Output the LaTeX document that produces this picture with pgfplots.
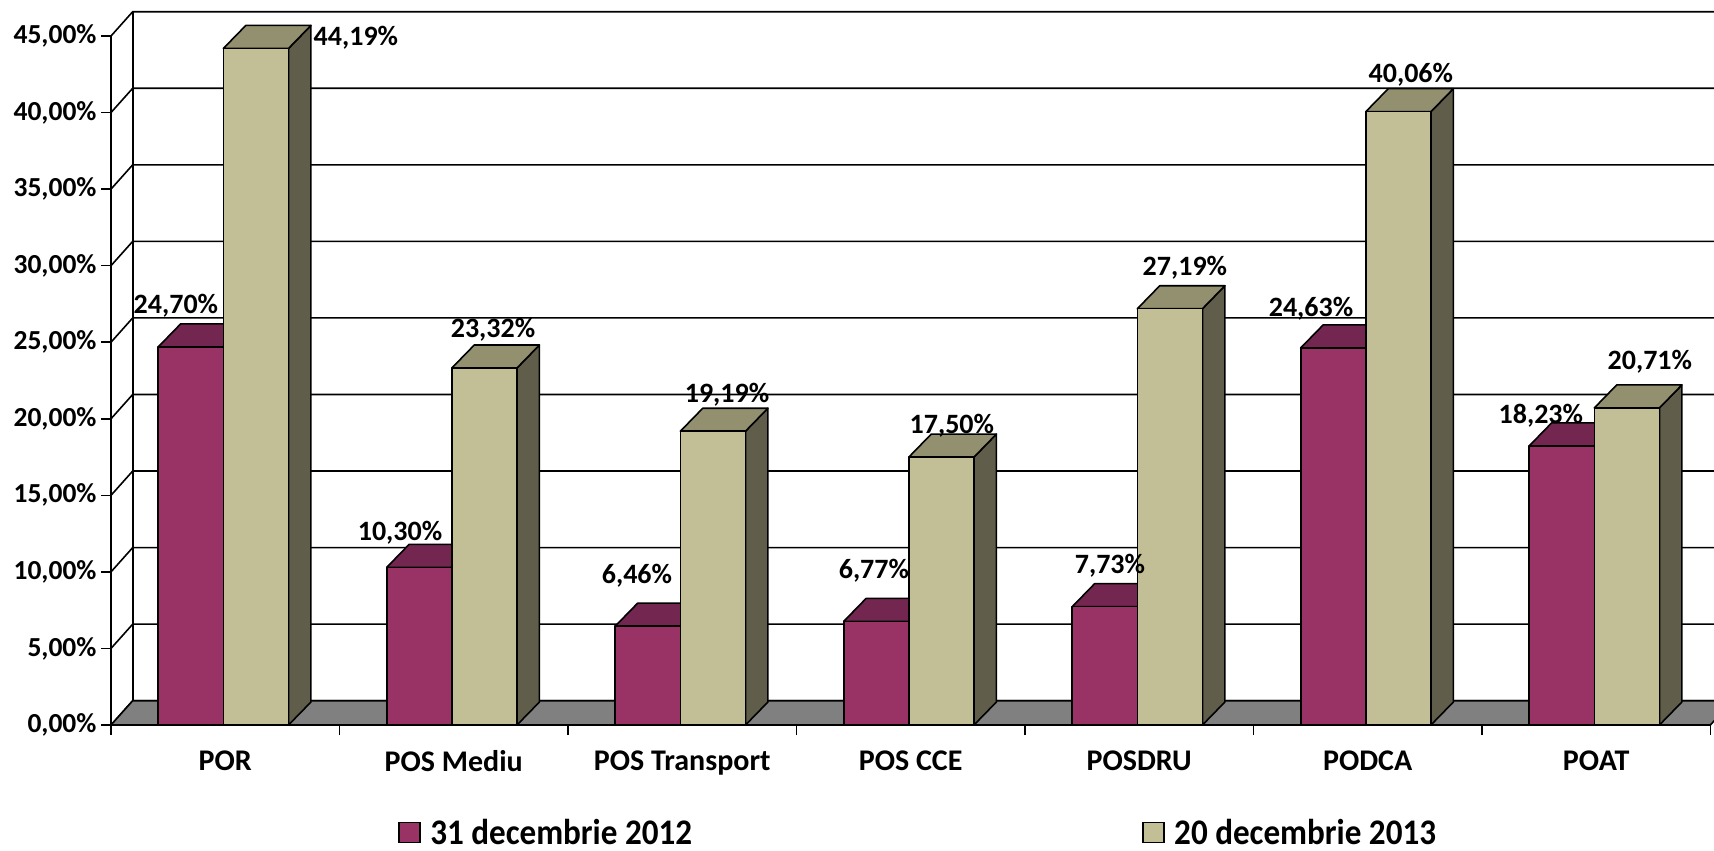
\documentclass[border=0pt]{standalone}
\usepackage{fontspec}
\setmainfont{Carlito}
\newfontfamily\legfont{Carlito}[FakeStretch=0.92]
\usepackage{pgfplots}
\usepackage{pgfplotstable}
\pgfplotsset{compat=1.18}
\definecolor{redF}{HTML}{993366}
\definecolor{redT}{HTML}{732650}
\definecolor{redS}{HTML}{5E1F42}
\definecolor{begF}{HTML}{C2BF96}
\definecolor{begT}{HTML}{939070}
\definecolor{begS}{HTML}{605E4A}
\definecolor{floorC}{HTML}{808080}

\pgfplotstableread{
i r b
0 24.70 44.19
1 10.30 23.32
2 6.46 19.19
3 6.77 17.50
4 7.73 27.19
5 24.63 40.06
6 18.23 20.71
}\data

\pgfplotstableread{
lx ly v
0.284 27.37 24.70
1.072 44.87 44.19
1.265 12.54 10.30
1.672 25.80 23.32
2.302 9.73 6.46
2.696 21.55 19.19
3.339 10.06 6.77
3.680 19.53 17.50
4.372 10.39 7.73
4.700 29.85 27.19
5.252 27.17 24.63
5.689 42.46 40.06
6.258 20.18 18.23
6.735 23.71 20.71
}\labels

\def\bdx{0.098}
\def\bdy{1.5}

\begin{document}
\begin{tikzpicture}
\begin{axis}[
  at={(111pt,-725pt)}, anchor=south west,
  scale only axis, width=1599.5pt, height=689pt,
  xmin=0, xmax=7, ymin=0, ymax=45,
  enlargelimits=false, clip=false,
  axis x line*=bottom, axis y line*=left,
  axis line style={line width=1.6pt, black, -},
  every tick/.style={black, line width=1.6pt},
  tick align=outside, major tick length=10pt,
  ytick={0,5,...,45},
  yticklabel={\pgfmathprintnumber[assume math mode=true,fixed,fixed zerofill,precision=2,use comma]{\tick}\%},
  xtick={0,...,7}, xticklabels={},
  extra x ticks={0.5,1.5,...,6.5},
  extra x tick labels={POR,POS Mediu,POS Transport,POS CCE,POSDRU,PODCA,POAT},
  extra x tick style={major tick length=0pt},
  yticklabel style={font=\fontsize{27.5}{32}\selectfont\bfseries, xshift=-1pt},
  xticklabel style={font=\fontsize{30}{34}\selectfont\bfseries, yshift=-22pt},
  bar3d/.style={draw=black, line width=1.6pt, line join=round},
  grid3d/.style={draw=black, line width=1.6pt},
  legend image code/.code={\draw[#1,draw=black,line width=1.6pt] (0pt,-10pt) rectangle (21pt,10pt); \path (30pt,0pt);},
  legend style={at={(axis description cs:0.1776,-0.156)}, anchor=west, draw=none, fill=none,
    font=\legfont\bfseries\fontsize{36}{40}\selectfont,
    nodes={inner sep=1pt},
    /tikz/every even column/.append style={column sep=449pt}},
  legend columns=2, legend cell align=left,
]
\addlegendimage{fill=redF}
\addlegendentry{31 decembrie 2012}
\addlegendimage{fill=begF}
\addlegendentry{20 decembrie 2013}

% walls and grid
\pgfplotsinvokeforeach{0,5,...,45}{%
  \pgfmathsetmacro\yb{#1+1.587}%
  \edef\tmp{\noexpand\addplot[forget plot,grid3d] coordinates {(0,#1)(0.095,\yb)(7.095,\yb)};}\tmp
}
\addplot[forget plot,grid3d] coordinates {(0.095,1.587)(0.095,46.587)};
% floor
\addplot[forget plot,fill=floorC,draw=black,line width=1.6pt,line join=round] coordinates {(0,0)(7,0)(7.095,1.587)(0.095,1.587)} -- cycle;

% bars
\pgfplotsinvokeforeach{0,...,6}{%
  \pgfplotstablegetelem{#1}{r}\of\data \let\vr\pgfplotsretval
  \pgfplotstablegetelem{#1}{b}\of\data \let\vb\pgfplotsretval
  \pgfmathsetmacro\xa{#1+0.207}%
  \pgfmathsetmacro\xb{#1+0.492}%
  \pgfmathsetmacro\xc{#1+0.777}%
  \pgfmathsetmacro\xad{#1+0.207+\bdx}%
  \pgfmathsetmacro\xbd{#1+0.492+\bdx}%
  \pgfmathsetmacro\xcd{#1+0.777+\bdx}%
  \pgfmathsetmacro\vrd{\vr+\bdy}%
  \pgfmathsetmacro\vbd{\vb+\bdy}%
  \edef\tmp{%
   \noexpand\addplot[forget plot,bar3d,fill=redS] coordinates {(\xb,0)(\xbd,\bdy)(\xbd,\vrd)(\xb,\vr)} -- cycle;
   \noexpand\addplot[forget plot,bar3d,fill=redT] coordinates {(\xa,\vr)(\xb,\vr)(\xbd,\vrd)(\xad,\vrd)} -- cycle;
   \noexpand\addplot[forget plot,bar3d,fill=redF] coordinates {(\xa,0)(\xb,0)(\xb,\vr)(\xa,\vr)} -- cycle;
   \noexpand\addplot[forget plot,bar3d,fill=begS] coordinates {(\xc,0)(\xcd,\bdy)(\xcd,\vbd)(\xc,\vb)} -- cycle;
   \noexpand\addplot[forget plot,bar3d,fill=begT] coordinates {(\xb,\vb)(\xc,\vb)(\xcd,\vbd)(\xbd,\vbd)} -- cycle;
   \noexpand\addplot[forget plot,bar3d,fill=begF] coordinates {(\xb,0)(\xc,0)(\xc,\vb)(\xb,\vb)} -- cycle;
  }\tmp
}

% data labels
\addplot[forget plot, draw=none,
  nodes near coords={\pgfmathprintnumber[assume math mode=true,fixed,fixed zerofill,precision=2,use comma]{\pgfplotspointmeta}\%},
  nodes near coords align={anchor=center},
  point meta=explicit,
  every node near coord/.append style={font=\fontsize{28}{32}\selectfont\bfseries, inner sep=0pt, anchor=center}]
  table[x=lx,y=ly,meta=v]{\labels};
\end{axis}
\pgfresetboundingbox
\useasboundingbox (0,0) rectangle (1714pt,-851pt);
\end{tikzpicture}
\end{document}
